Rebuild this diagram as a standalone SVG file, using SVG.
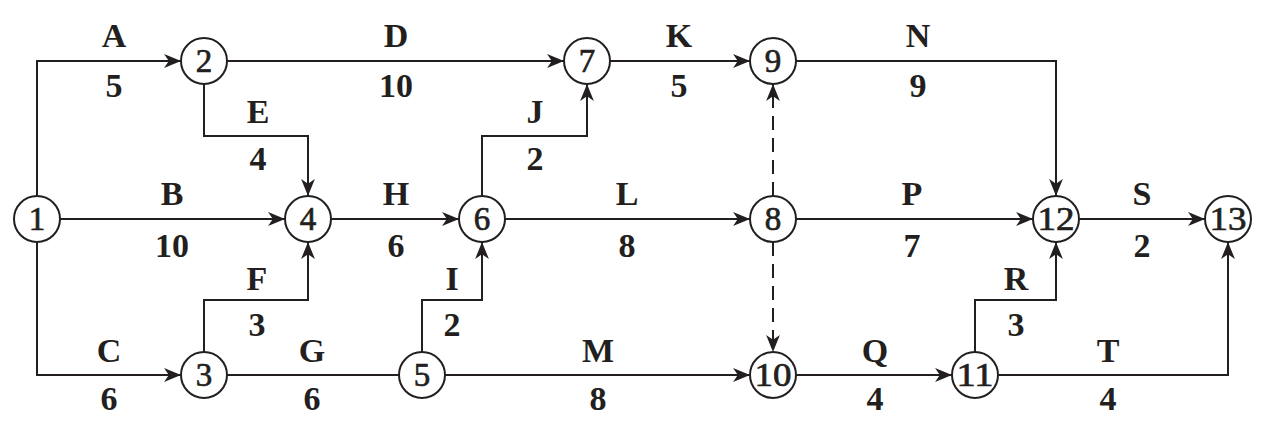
<svg xmlns="http://www.w3.org/2000/svg" width="1267" height="429" viewBox="0 0 1267 429">
<style>
.c{fill:#fff;stroke:#231f20;stroke-width:2}
.n{font-family:"Liberation Serif",serif;font-size:33px;fill:#231f20;stroke:#231f20;stroke-width:0.7;text-anchor:middle}
.l{font-family:"Liberation Serif",serif;font-size:34px;font-weight:bold;fill:#231f20;text-anchor:middle}
.e{fill:none;stroke:#231f20;stroke-width:2}
.d{stroke-dasharray:14 8}
</style>
<defs>
<marker id="ar" markerUnits="userSpaceOnUse" markerWidth="18" markerHeight="14" refX="16" refY="6.5" orient="auto" viewBox="0 0 17 13">
<path d="M0,0 L16,6.5 L0,13 L4.5,6.5 z" fill="#231f20"/>
</marker>
</defs>
<rect width="1267" height="429" fill="#fff"/>
<g id="connectors">
<path class="e" d="M37,196 V61 H181" marker-end="url(#ar)"/>
<path class="e" d="M60,219 H285" marker-end="url(#ar)"/>
<path class="e" d="M37,242 V375 H181" marker-end="url(#ar)"/>
<path class="e" d="M227,61 H564" marker-end="url(#ar)"/>
<path class="e" d="M204,84 V136 H308 V196" marker-end="url(#ar)"/>
<path class="e" d="M204,352 V300 H308 V242" marker-end="url(#ar)"/>
<path class="e" d="M227,375 H399"/>
<path class="e" d="M331,219 H459" marker-end="url(#ar)"/>
<path class="e" d="M422,352 V300 H482 V242" marker-end="url(#ar)"/>
<path class="e" d="M482,196 V136 H587 V84" marker-end="url(#ar)"/>
<path class="e" d="M610,61 H750" marker-end="url(#ar)"/>
<path class="e" d="M505,219 H750" marker-end="url(#ar)"/>
<path class="e" d="M445,375 H750" marker-end="url(#ar)"/>
<path class="e" d="M796,61 H1056 V196" marker-end="url(#ar)"/>
<path class="e" d="M796,219 H1033" marker-end="url(#ar)"/>
<path class="e" d="M796,375 H952" marker-end="url(#ar)"/>
<path class="e" d="M975,352 V300 H1056 V242" marker-end="url(#ar)"/>
<path class="e" d="M1079,219 H1205" marker-end="url(#ar)"/>
<path class="e" d="M998,375 H1228 V242" marker-end="url(#ar)"/>
<path class="e d" d="M773,196 V84" marker-end="url(#ar)"/>
<path class="e d" d="M773,242 V352" marker-end="url(#ar)"/>
</g>
<g id="labels">
<text class="l" x="114" y="47">A</text><text class="l" x="114" y="97">5</text>
<text class="l" x="396" y="47">D</text><text class="l" x="396" y="97">10</text>
<text class="l" x="679" y="47">K</text><text class="l" x="679" y="97">5</text>
<text class="l" x="918" y="47">N</text><text class="l" x="918" y="97">9</text>
<text class="l" x="258" y="123">E</text><text class="l" x="258" y="170">4</text>
<text class="l" x="535" y="123">J</text><text class="l" x="535" y="170">2</text>
<text class="l" x="172" y="205">B</text><text class="l" x="172" y="257">10</text>
<text class="l" x="396" y="205">H</text><text class="l" x="396" y="257">6</text>
<text class="l" x="627" y="205">L</text><text class="l" x="627" y="257">8</text>
<text class="l" x="912" y="205">P</text><text class="l" x="912" y="257">7</text>
<text class="l" x="1142" y="205">S</text><text class="l" x="1142" y="257">2</text>
<text class="l" x="257" y="290">F</text><text class="l" x="257" y="336">3</text>
<text class="l" x="452" y="290">I</text><text class="l" x="452" y="336">2</text>
<text class="l" x="1016" y="290">R</text><text class="l" x="1016" y="336">3</text>
<text class="l" x="109" y="362">C</text><text class="l" x="109" y="410">6</text>
<text class="l" x="312" y="362">G</text><text class="l" x="312" y="410">6</text>
<text class="l" x="598" y="362">M</text><text class="l" x="598" y="410">8</text>
<text class="l" x="875" y="362">Q</text><text class="l" x="875" y="410">4</text>
<text class="l" x="1108" y="362">T</text><text class="l" x="1108" y="410">4</text>
</g>
<g id="n1"><circle class="c" cx="37" cy="219" r="23"/><text class="n" x="37" y="230">1</text></g>
<g id="n2"><circle class="c" cx="204" cy="61" r="23"/><text class="n" x="204" y="72">2</text></g>
<g id="n3"><circle class="c" cx="204" cy="375" r="23"/><text class="n" x="204" y="386">3</text></g>
<g id="n4"><circle class="c" cx="308" cy="219" r="23"/><text class="n" x="308" y="230">4</text></g>
<g id="n5"><circle class="c" cx="422" cy="375" r="23"/><text class="n" x="422" y="386">5</text></g>
<g id="n6"><circle class="c" cx="482" cy="219" r="23"/><text class="n" x="482" y="230">6</text></g>
<g id="n7"><circle class="c" cx="587" cy="61" r="23"/><text class="n" x="587" y="72">7</text></g>
<g id="n8"><circle class="c" cx="773" cy="219" r="23"/><text class="n" x="773" y="230">8</text></g>
<g id="n9"><circle class="c" cx="773" cy="61" r="23"/><text class="n" x="773" y="72">9</text></g>
<g id="n10"><circle class="c" cx="773" cy="375" r="23"/><text class="n" x="773" y="386" textLength="37" lengthAdjust="spacingAndGlyphs">10</text></g>
<g id="n11"><circle class="c" cx="975" cy="375" r="23"/><text class="n" x="975" y="386" textLength="37" lengthAdjust="spacingAndGlyphs">11</text></g>
<g id="n12"><circle class="c" cx="1056" cy="219" r="23"/><text class="n" x="1056" y="230" textLength="37" lengthAdjust="spacingAndGlyphs">12</text></g>
<g id="n13"><circle class="c" cx="1228" cy="219" r="23"/><text class="n" x="1228" y="230" textLength="37" lengthAdjust="spacingAndGlyphs">13</text></g>
</svg>
